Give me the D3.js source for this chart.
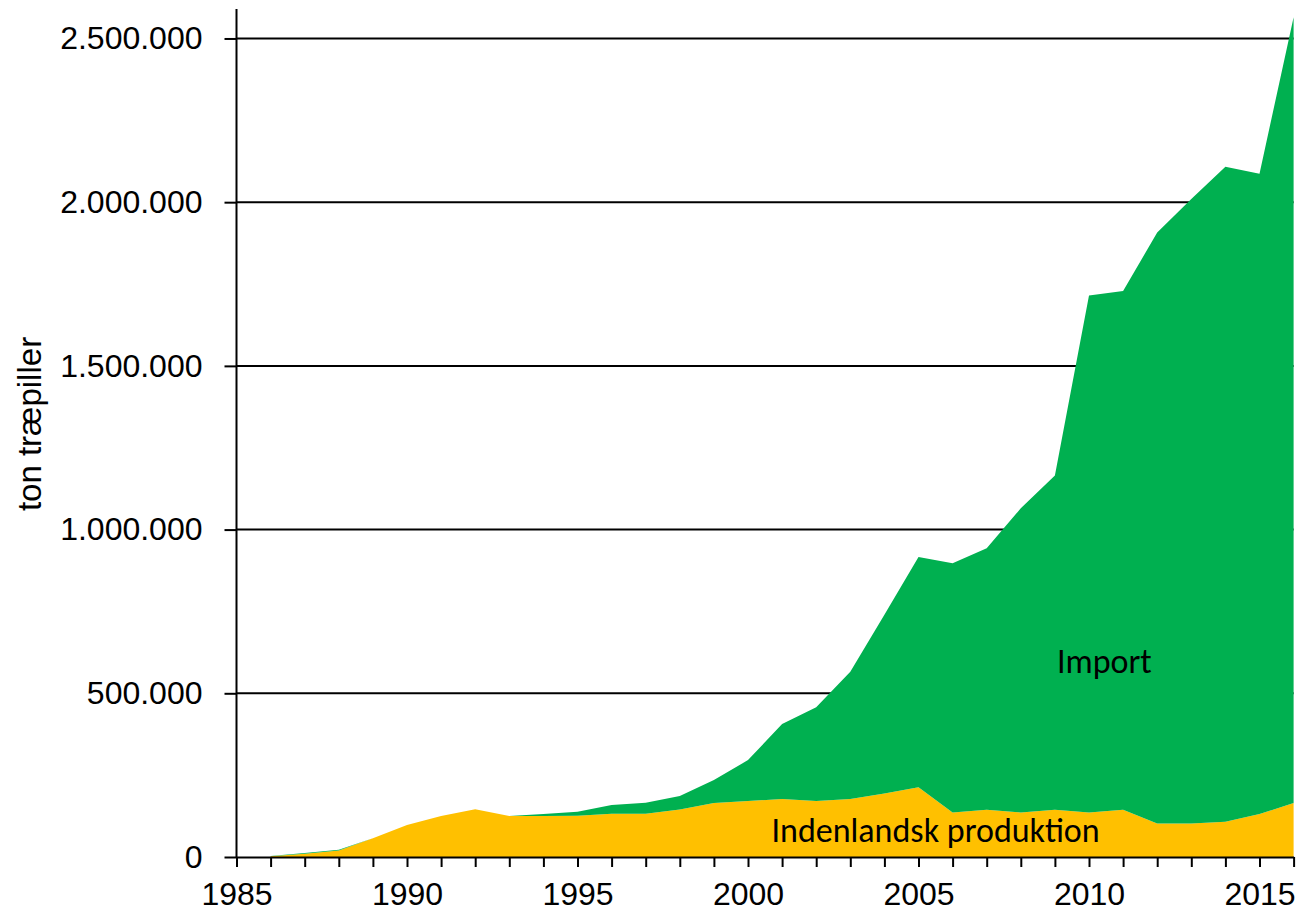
<!DOCTYPE html>
<html>
<head>
<meta charset="utf-8">
<script src="https://cdn.jsdelivr.net/npm/d3@7"></script>
<style>
  body { margin: 0; background: #fff; }
  svg { display: block; }
</style>
</head>
<body>
<div id="chart"></div>
<script>
// data (ton træpiller per year)
var years = [1986,1987,1988,1989,1990,1991,1992,1993,1994,1995,1996,1997,1998,1999,2000,
             2001,2002,2003,2004,2005,2006,2007,2008,2009,2010,2011,2012,2013,2014,2015,2016]
var domestic = [2000,10000,20000,57000,98000,125000,146000,125000,125000,126000,132000,132000,145000,165000,171000,
                177000,171000,177000,194000,213000,136000,144000,136000,144000,136000,144000,102000,102000,108000,131000,165000]
var imported = [1000,2000,2000,0,0,0,0,0,6000,12000,27000,34000,41000,70000,125000,
                229000,286000,389000,546000,703000,761000,799000,929000,1021000,1579000,1585000,1805000,1908000,2000000,1956000,2400000]
var yTicks = [0,500000,1000000,1500000,2000000,2500000]
var xLabels = [1985,1990,1995,2000,2005,2010,2015]
var seriesKeys = ['domestic','imported']
var seriesColors = {domestic:'#FFC000', imported:'#00B050'}

var svgW = 1303, svgH = 913
var svg = d3.select('#chart').append('svg')
    .attr('width', svgW)
    .attr('height', svgH)

var xscale = d3.scaleLinear().domain([1985, 2016]).range([236.5, 1293.6])
var yscale = d3.scaleLinear().domain([0, 2590000]).range([857, 9])

// table for stacking
var table = years.map(function(y, i){
    return {year: y, domestic: domestic[i], imported: imported[i]}
})
var stacked = d3.stack().keys(seriesKeys)(table)

// gridlines
svg.append('g').selectAll('line')
    .data(yTicks.filter(function(d){ return d > 0 }))
    .enter().append('line')
    .attr('x1', xscale(1985)).attr('x2', xscale(2016))
    .attr('y1', function(d){ return yscale(d) })
    .attr('y2', function(d){ return yscale(d) })
    .attr('stroke', '#000').attr('stroke-width', 2)

var area = d3.area()
    .x(function(d){ return xscale(d.data.year) })
    .y0(function(d){ return yscale(d[0]) })
    .y1(function(d){ return yscale(d[1]) })

svg.append('g').selectAll('path')
    .data(stacked)
    .enter().append('path')
    .attr('d', area)
    .attr('fill', function(d){ return seriesColors[d.key] })

// y axis
var yaxis = d3.axisLeft(yscale)
    .tickValues(yTicks)
    .tickSize(12)
    .tickPadding(22)
    .tickFormat(function(d){ return d3.format(',')(d).replace(/,/g, '.') })
var gy = svg.append('g')
    .attr('transform', 'translate(' + xscale(1985) + ',0)')
    .call(yaxis)
gy.select('.domain').attr('d', 'M0,' + yscale(2590000) + 'V' + yscale(0))
gy.selectAll('line').attr('stroke', '#000').attr('stroke-width', 2)
gy.selectAll('text')
    .attr('font-family', 'Liberation Sans, Arial, sans-serif')
    .attr('font-size', 32)
    .attr('fill', '#000')
gy.select('.domain').attr('stroke', '#000').attr('stroke-width', 2)

// x axis
var xaxis = d3.axisBottom(xscale)
    .tickValues(d3.range(1985, 2017))
    .tickSize(10)
    .tickSizeOuter(0)
    .tickFormat(function(d){ return xLabels.indexOf(d) >= 0 ? d : '' })
var gx = svg.append('g')
    .attr('transform', 'translate(0,' + yscale(0) + ')')
    .call(xaxis)
gx.selectAll('line').attr('stroke', '#000').attr('stroke-width', 2)
gx.select('.domain').attr('stroke', '#000').attr('stroke-width', 2)
gx.selectAll('text')
    .attr('font-family', 'Liberation Sans, Arial, sans-serif')
    .attr('font-size', 32)
    .attr('fill', '#000')
    .attr('dy', '0')
    .attr('y', 48)

// axis title
svg.append('text')
    .attr('transform', 'translate(41,424) rotate(-90)')
    .attr('text-anchor', 'middle')
    .attr('font-family', 'Liberation Sans, Arial, sans-serif')
    .attr('font-size', 33)
    .text('ton træpiller')

// series labels
svg.append('text')
    .attr('x', xscale(2010.45)).attr('y', yscale(562000))
    .attr('text-anchor', 'middle')
    .attr('font-family', 'Carlito, Lato, sans-serif')
    .attr('font-size', 34)
    .text('Import')
svg.append('text')
    .attr('x', xscale(2005.5)).attr('y', yscale(46000))
    .attr('text-anchor', 'middle')
    .attr('font-family', 'Carlito, Lato, sans-serif')
    .attr('font-size', 34)
    .text('Indenlandsk produktion')
</script>
</body>
</html>
